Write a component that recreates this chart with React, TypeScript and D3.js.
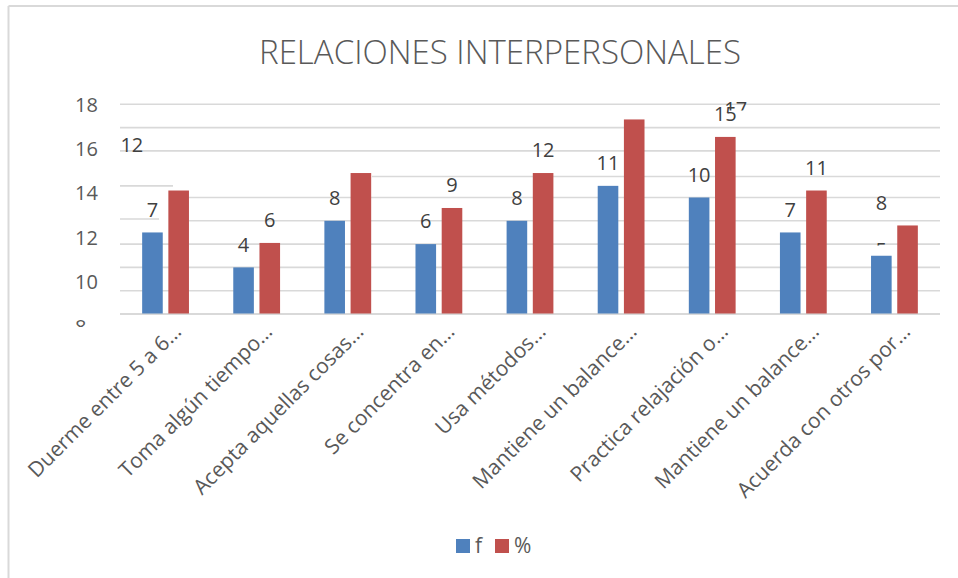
import React from 'react';
import * as d3 from 'd3';

// ---- data ----
const categories = [
  'Duerme entre 5 a 6…',
  'Toma algún tiempo…',
  'Acepta aquellas cosas…',
  'Se concentra en…',
  'Usa métodos…',
  'Mantiene un balance…',
  'Practica relajación o…',
  'Mantiene un balance…',
  'Acuerda con otros por…',
];
const seriesNames = ['f', '%'];
const fValues = [7, 4, 8, 6, 8, 11, 10, 7, 5];
const pctValues = [10.6, 6.1, 12.1, 9.1, 12.1, 16.7, 15.2, 10.6, 7.6];
const yTickLabels = [8, 10, 12, 14, 16, 18];
const gridValues = [0, 2, 4, 6, 8, 10, 11.8, 14, 16, 18];
const title = 'RELACIONES INTERPERSONALES';

// ---- layout / styling (not data) ----
const W = 958;
const H = 578;
const PLOT = { left: 120, right: 940, top: 104.3, bottom: 314 };
const COLORS = ['#4f81bd', '#c0504d'];
const FONT = "'Open Sans', 'Noto Sans', sans-serif";
const LABEL_GAP = 23;
// rendering quirks seen in the reference (gridline breaks, shuffled labels)
const gridStart: Record<string, number> = { '8': 189, '10': 189, '11.8': 372 };
const gridStubs = [
  { v: 11, x2: 173 },
  { v: 8.15, x2: 159 },
];
type Quirk = { hidden?: boolean; dx?: number; dy?: number; clipBelow?: number };
const labelQuirks: Record<string, Quirk> = {
  '%-0': { hidden: true },
  '%-2': { dx: -229, dy: -5.5 },
  '%-5': { dx: 101.5, dy: 12, clipBelow: 110.5 },
  '%-8': { dx: -26, dy: 0 },
  'f-8': { dy: 17.5, clipBelow: 245.5 },
};

export default function App() {
  const idx = d3.range(categories.length);
  const x0 = d3.scaleBand<number>().domain(idx).range([PLOT.left, PLOT.right]).padding(0);
  const bw = x0.bandwidth();
  const x1 = d3
    .scaleBand<string>()
    .domain(seriesNames)
    .range([bw / 2 - 23.4, bw / 2 + 23.4])
    .paddingInner(0.214)
    .paddingOuter(0);
  const y = d3.scaleLinear().domain([0, 18]).range([PLOT.bottom, PLOT.top]);
  const yLab = d3.scaleLinear().domain([8, 18]).range([326.7, 104.3]);
  const series = [fValues, pctValues];

  const labels: React.ReactNode[] = [];
  series.forEach((vals, s) => {
    vals.forEach((v, i) => {
      const key = `${seriesNames[s]}-${i}`;
      const q = labelQuirks[key] || {};
      if (q.hidden) return;
      const cx = (x0(i) as number) + (x1(seriesNames[s]) as number) + x1.bandwidth() / 2 + (q.dx || 0);
      const cy = y(v) - LABEL_GAP + (q.dy || 0);
      labels.push(
        <text
          key={key}
          x={cx}
          y={cy + 7.2}
          textAnchor="middle"
          fontSize={20}
          fill="#404040"
          clipPath={q.clipBelow ? `url(#clip-${key})` : undefined}
        >
          {Math.round(v)}
        </text>
      );
    });
  });

  return (
    <svg
      width={W}
      height={H}
      style={{ position: 'absolute', left: 0, top: 0, background: '#fff' }}
      fontFamily={FONT}
    >
      <defs>
        {Object.entries(labelQuirks)
          .filter(([, q]) => q.clipBelow)
          .map(([k, q]) => (
            <clipPath id={`clip-${k}`} key={k}>
              <rect x={0} y={0} width={W} height={q.clipBelow} />
            </clipPath>
          ))}
        <clipPath id="clip-yticks">
          <rect x={0} y={0} width={W} height={327} />
        </clipPath>
      </defs>
      <rect x={0} y={0} width={W} height={H} fill="#fff" />
      {/* chart border (top & left visible) */}
      <line x1={8.5} x2={W} y1={6} y2={6} stroke="#d9d9d9" strokeWidth={2} />
      <line x1={8.5} x2={8.5} y1={6} y2={H} stroke="#d9d9d9" strokeWidth={2} />

      <text
        x={500}
        y={64}
        textAnchor="middle"
        fontSize={33}
        fontWeight={300}
        fill="#595959"
        textLength={482}
        lengthAdjust="spacingAndGlyphs"
      >
        {title}
      </text>

      {/* gridlines */}
      {gridValues.map((g) => (
        <line
          key={`g${g}`}
          x1={gridStart[String(g)] ?? PLOT.left}
          x2={PLOT.right}
          y1={y(g)}
          y2={y(g)}
          stroke="#d9d9d9"
          strokeWidth={g === 0 ? 2 : 1.6}
        />
      ))}
      {gridStubs.map((s) => (
        <line key={`s${s.v}`} x1={PLOT.left} x2={s.x2} y1={y(s.v)} y2={y(s.v)} stroke="#d9d9d9" strokeWidth={1.6} />
      ))}

      {/* y tick labels */}
      <g clipPath="url(#clip-yticks)">
        {yTickLabels.map((t) => (
          <text key={t} x={75} y={yLab(t) + 7.2} fontSize={20} fill="#595959">
            {t}
          </text>
        ))}
      </g>

      {/* bars */}
      {series.map((vals, s) =>
        vals.map((v, i) => (
          <rect
            key={`b${s}-${i}`}
            x={(x0(i) as number) + (x1(seriesNames[s]) as number)}
            y={y(v)}
            width={x1.bandwidth()}
            height={y(0) - y(v) - 0.5}
            fill={COLORS[s]}
          />
        ))
      )}

      {labels}

      {/* category labels */}
      {categories.map((c, i) => {
        const cx = (x0(i) as number) + bw / 2;
        return (
          <text
            key={`c${i}`}
            transform={`translate(${cx + 17},${333}) rotate(-45)`}
            textAnchor="end"
            fontSize={21}
            fill="#595959"
          >
            {c}
          </text>
        );
      })}

      {/* legend */}
      {seriesNames.map((n, s) => (
        <g key={n} transform={`translate(${456 + s * 39},539)`}>
          <rect x={0} y={0} width={14} height={14} fill={COLORS[s]} />
          <text x={19} y={14} fontSize={21} fill="#595959">
            {n}
          </text>
        </g>
      ))}
    </svg>
  );
}
